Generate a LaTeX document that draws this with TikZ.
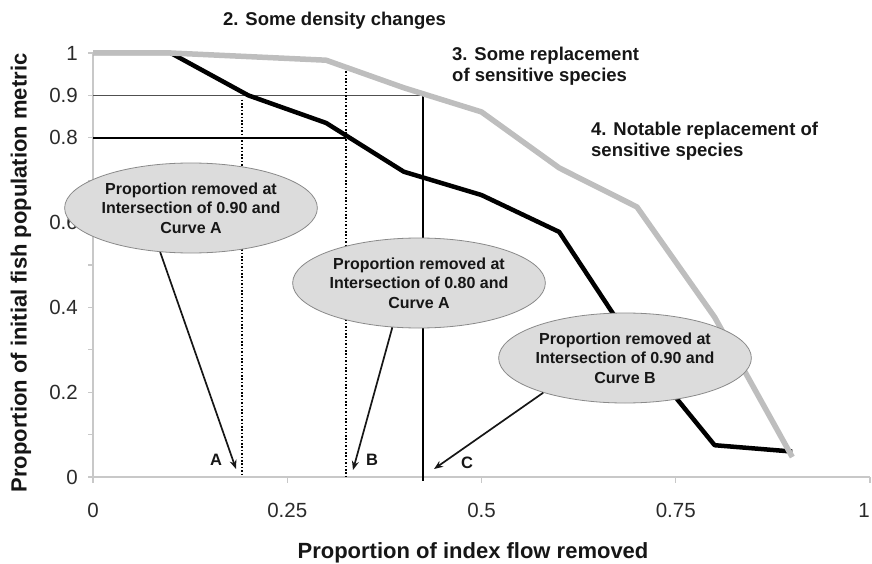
\documentclass[tikz,border=0pt]{standalone}
\usepackage{fontspec}
\setmainfont{Liberation Sans}
\usetikzlibrary{arrows.meta,shapes.geometric}
\definecolor{curvegray}{HTML}{BEBEBE}
\definecolor{axisgray}{HTML}{C8C8C8}
\definecolor{bubblefill}{HTML}{DCDCDC}
\definecolor{bubbleedge}{HTML}{8A8A8A}
\definecolor{inkdark}{HTML}{161616}
\definecolor{ticktext}{HTML}{2A2A2A}
\definecolor{refline}{HTML}{505050}
\begin{document}
\begin{tikzpicture}[x=1pt,y=-1pt,
  bubble/.style={ellipse, draw=bubbleedge, fill=bubblefill, line width=0.8pt,
    minimum width=246pt, minimum height=90pt, inner sep=0pt, align=center,
    text=inkdark, font=\bfseries\fontsize{16}{19.5}\selectfont},
  tagtext/.style={anchor=north west, inner sep=0pt, align=left, text=inkdark,
    font=\bfseries\fontsize{18.5}{21}\selectfont},
  abclabel/.style={inner sep=0pt, text=inkdark, font=\bfseries\fontsize{16.5}{19}\selectfont},
  ticklabel/.style={inner sep=0pt, text=ticktext, font=\fontsize{20.5}{24}\selectfont},
  axistitle/.style={inner sep=0pt, text=inkdark, font=\bfseries\fontsize{22}{26}\selectfont},
  pointer/.style={draw=inkdark, line width=1.7pt, -{Stealth[length=9pt,width=7pt]}},
  axisstroke/.style={draw=axisgray, line width=1.2pt},
  curveA/.style={draw=black, line width=4.5pt, line join=round},
  curveB/.style={draw=curvegray, line width=5.5pt, line join=round},
  dotguide/.style={draw=black, line width=2.2pt, dash pattern=on 1.6pt off 1.8pt},
  solidguide/.style={draw=black, line width=1.8pt},
]
\useasboundingbox (0,0) rectangle (872,564);

% ---------- plot area in data units ----------
\begin{scope}[shift={(93,477)}, x=777pt, y=424pt]
  % axes and ticks
  \draw[axisstroke] (0,0) -- (1,0);
  \draw[axisstroke] (0,0) -- (0,1);
  \foreach \i in {0,...,10}
    \draw[axisstroke] (0,\i/10) -- ++(-5pt,0);
  \foreach \t in {0,0.25,0.5,0.75,1}
    \draw[axisstroke] (\t,0) -- ++(0,-6pt);

  % tick labels
  \foreach \v/\s [count=\i] in {0/0, 0.2/0.2, 0.4/0.4, 0.6/0.6, 0.8/0.8, 0.9/0.9, 1/1}
    \node[ticklabel, anchor=east] (ylab\i) at (-0.0193,\v) {\s};
  \foreach \t/\s [count=\i] in {0/0, 0.25/0.25, 0.5/0.5, 0.75/0.75}
    \node[ticklabel] (xlab\i) at (\t,-0.08) {\s};
  \node[ticklabel, anchor=east] (xlab5) at (1.0,-0.08) {1};

  % reference lines
  \draw[draw=refline, line width=1.5pt] (0,0.9) -- (0.425,0.9);
  \draw[draw=black, line width=1.5pt] (0,0.8) -- (0.326,0.8);
  \draw[dotguide] (0.192,0.89) -- (0.192,0);
  \draw[dotguide] (0.326,0.965) -- (0.326,0);
  \draw[solidguide] (0.425,0.9) -- (0.425,-0.01);

  % curve A (black) and curve B (grey)
  \draw[curveA] plot coordinates {(0,1) (0.1,1) (0.2,0.9) (0.3,0.835) (0.4,0.72)
    (0.5,0.665) (0.6,0.578) (0.7,0.30) (0.8,0.075) (0.9,0.06)};
  \draw[curveB] plot coordinates {(0,1) (0.1,1) (0.3,0.983) (0.4,0.918) (0.5,0.861)
    (0.6,0.729) (0.7,0.637) (0.8,0.377) (0.9,0.047)};
\end{scope}

% ---------- annotations ----------
\node[tagtext] (stage2) at (223,12) {2. Some density changes};
\node[tagtext] (stage3) at (452,47) {3. Some replacement\\of sensitive species};
\node[tagtext] (stage4) at (591,122) {4. Notable replacement of\\sensitive species};

\node[bubble] (bubA) at (191,208) {Proportion removed at\\Intersection of 0.90 and\\Curve A};
\node[bubble] (bubB) at (419,283) {Proportion removed at\\Intersection of 0.80 and\\Curve A};
\node[bubble] (bubC) at (625,358) {Proportion removed at\\Intersection of 0.90 and\\Curve B};

\coordinate (tipA) at (236,469);
\coordinate (tipB) at (353,470);
\coordinate (tipC) at (434,469);
\draw[pointer] (bubA.235) -- (tipA);
\draw[pointer] (bubB.239) -- (tipB);
\draw[pointer] (bubC.203) -- (tipC);

\node[abclabel] (markA) at (216,460) {A};
\node[abclabel] (markB) at (372,460) {B};
\node[abclabel] (markC) at (467,463) {C};

% axis titles
\node[axistitle] (xtitle) at (473,553) {Proportion of index flow removed};
\node[axistitle, rotate=90] (ytitle) at (21,273) {Proportion of initial fish population metric};
\end{tikzpicture}
\end{document}
